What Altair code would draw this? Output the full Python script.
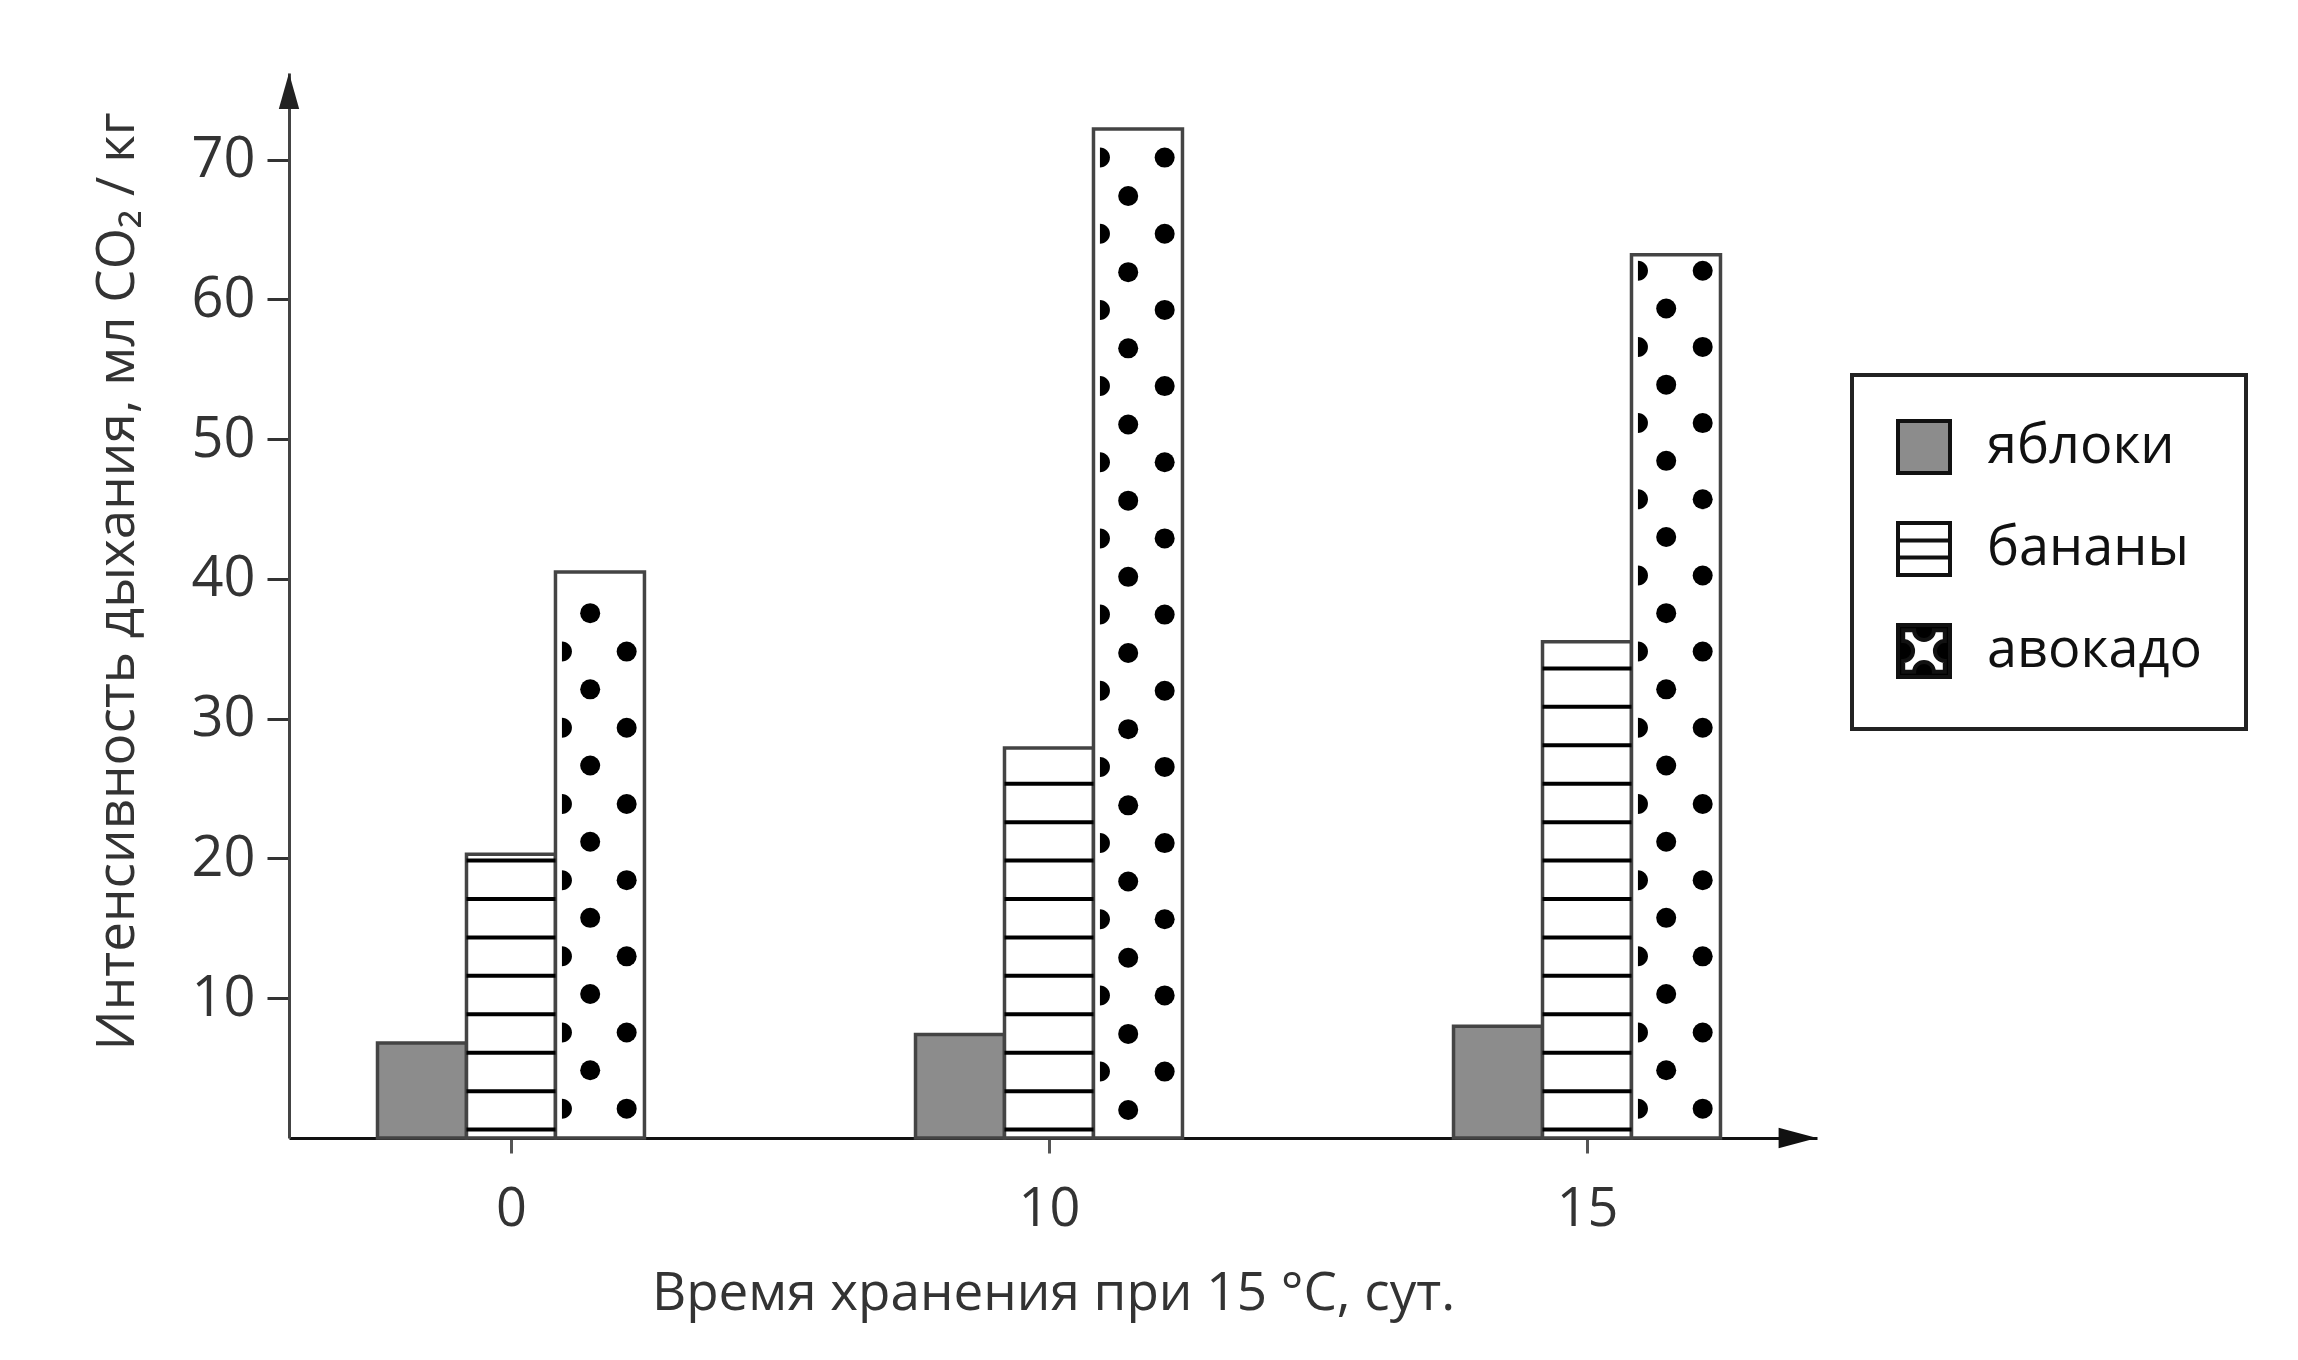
import altair as alt
import pandas as pd

# ---- data ----
days = ["0", "10", "15"]
fruits = ["яблоки", "бананы", "авокадо"]
apples = [6.8, 7.4, 8.0]
bananas = [20.3, 27.9, 35.5]
avocado = [40.5, 72.2, 63.2]
y_ticks = [10, 20, 30, 40, 50, 60, 70]
x_title = "Время хранения при 15 °C, сут."
y_title = "Интенсивность дыхания, мл CO₂ / кг"

# ---- layout constants ----
BAR_W = 0.1654
X_MIN, X_MAX = -0.4126, 2.4275
Y_MAX = 76.2
W, H = 1528, 1065
FONT = "Open Sans"

series = {"яблоки": apples, "бананы": bananas, "авокадо": avocado}
fills = {"яблоки": "#8c8c8c", "бананы": "#ffffff", "авокадо": "#ffffff"}

rows = []
for fi, fr in enumerate(fruits):
    for gi, d in enumerate(days):
        left = gi + (fi - 1.5) * BAR_W
        rows.append(dict(day=d, fruit=fr, ya=series[fr][gi], yb=0.0,
                         xa=left, xb=left + BAR_W))
bars_df = pd.DataFrame(rows)

# fill pattern of the banana bars: horizontal stripes
STRIPE_STEP, STRIPE_START = 2.75, 0.6
stripe_rows = []
for gi, v in enumerate(bananas):
    left = gi - 0.5 * BAR_W
    lvl = STRIPE_START
    while lvl < v - 0.3:
        stripe_rows.append(dict(xa=left, xb=left + BAR_W, ya=lvl))
        lvl += STRIPE_STEP
stripes_df = pd.DataFrame(stripe_rows)

# fill pattern of the avocado bars: staggered dots
DOT_STEP = 5.45
phase = [0, 1, 0]
dot_rows = []
for gi, v in enumerate(avocado):
    left = gi + 0.5 * BAR_W
    first_edge = 2.1 if phase[gi] == 0 else 4.75
    first_center = 4.85 if phase[gi] == 0 else 2.0
    r = first_edge
    while r < v - 0.9:
        dot_rows.append(dict(xa=left + 0.80 * BAR_W, ya=r, kind="full"))
        dot_rows.append(dict(xa=left + 0.012, ya=r, kind="half"))
        r += DOT_STEP
    r = first_center
    while r < v - 0.9:
        dot_rows.append(dict(xa=left + 0.39 * BAR_W, ya=r, kind="full"))
        r += DOT_STEP
dots_df = pd.DataFrame(dot_rows)

arrows_df = pd.DataFrame([dict(xa=X_MIN, ya=Y_MAX, kind="up"), dict(xa=X_MAX, ya=0.0, kind="right")])

xs = alt.Scale(domain=[X_MIN, X_MAX], nice=False, zero=False)
ys = alt.Scale(domain=[0, Y_MAX], nice=False, zero=False)

label_expr = "[" + ",".join("'%s'" % d for d in days) + "][datum.value]"

x_axis = alt.Axis(values=[0, 1, 2], labelExpr=label_expr, title=x_title, grid=False,
                  domainColor="#111", domainWidth=3, tickColor="#555", tickSize=15, tickWidth=3,
                  labelFontSize=54, labelPadding=56, labelBaseline="middle", labelColor="#333",
                  labelFont=FONT, titleFont=FONT, titleFontSize=53, titleFontWeight="normal",
                  titleColor="#333", titleX=764, titleY=155, titleBaseline="middle", titleAlign="center")
y_axis = alt.Axis(values=y_ticks, title=y_title, grid=False,
                  domainColor="#444", domainWidth=3, tickColor="#333", tickSize=22, tickWidth=3,
                  labelFontSize=56, labelPadding=12, labelColor="#333", labelFont=FONT,
                  titleFont=FONT, titleFontSize=53, titleFontWeight="normal", titleColor="#333",
                  titleX=-172, titleY=508, titleAngle=270, titleAlign="center", titleBaseline="middle")

X = alt.X("xa:Q", scale=xs, axis=x_axis)
Y = alt.Y("ya:Q", scale=ys, axis=y_axis)


def bar_layer(fruit):
    return alt.Chart(bars_df).transform_filter(alt.datum.fruit == fruit).mark_rect(
        stroke="#444444", strokeWidth=3.5, fill=fills[fruit]).encode(
        x=X, x2="xb:Q", y=Y, y2="yb:Q")


bars = [bar_layer(f) for f in fruits]

stripes = alt.Chart(stripes_df).mark_rule(color="black", strokeWidth=4).encode(
    x=X, x2="xb:Q", y=Y)

full_dots = alt.Chart(dots_df).transform_filter("datum.kind == 'full'").mark_point(
    shape="circle", filled=True, size=400, color="black", opacity=1).encode(x=X, y=Y)
half_dots = alt.Chart(dots_df).transform_filter("datum.kind == 'half'").mark_point(
    shape="M0,-1A1,1 0 0 1 0,1Z", filled=True, size=400, color="black", opacity=1).encode(x=X, y=Y)

arrow_up = alt.Chart(arrows_df).transform_filter("datum.kind == 'up'").mark_point(
    shape="M0,0L-0.85,3L0.85,3Z", filled=True, size=576, color="#222", opacity=1).encode(x=X, y=Y)
arrow_right = alt.Chart(arrows_df).transform_filter("datum.kind == 'right'").mark_point(
    shape="M0,0L-3.2,-0.85L-3.2,0.85Z", filled=True, size=576, color="#111", opacity=1).encode(x=X, y=Y)

apple_sym = "M-1,-1H1V1H-1Z"
banana_sym = "M-1,-1H1V1H-1Z M-1,-0.33H1 M-1,0.33H1"
avocado_sym = ("M-1,-1H1V1H-1Z M-0.8,-0.8V-0.38A0.38,0.38 0 0 1 -0.8,0.38V0.8H-0.38"
               "A0.38,0.38 0 0 1 0.38,0.8H0.8V0.38A0.38,0.38 0 0 1 0.8,-0.38V-0.8H0.38"
               "A0.38,0.38 0 0 1 -0.38,-0.8Z")

legend = alt.Legend(title=None, orient="none", legendX=1563, legendY=302, padding=44,
                    strokeColor="#222", symbolSize=2704, symbolStrokeWidth=4,
                    symbolOpacity=1, labelFontSize=54, labelLimit=500,
                    labelFont=FONT, labelColor="#111", labelOffset=35, rowPadding=34)

legend_layer = alt.Chart(bars_df).transform_filter("false").mark_point(
    filled=True, strokeWidth=4, opacity=1).encode(
    x=X, y=Y,
    fill=alt.Fill("fruit:N", scale=alt.Scale(domain=fruits, range=["#8c8c8c", "#ffffff", "#000000"]),
                  legend=legend),
    stroke=alt.Stroke("fruit:N", scale=alt.Scale(domain=fruits, range=["#111111", "#111111", "#111111"]),
                      legend=legend),
    shape=alt.Shape("fruit:N", scale=alt.Scale(domain=fruits, range=[apple_sym, banana_sym, avocado_sym]),
                    legend=legend),
)

chart = alt.layer(*bars, stripes, full_dots, half_dots, arrow_up, arrow_right, legend_layer).properties(
    width=W, height=H,
    autosize=alt.AutoSizeParams(type="none"),
    padding={"left": 281, "top": 65, "right": 470, "bottom": 200},
    background="white",
).configure_view(stroke=None).configure_legend(strokeWidth=4)

chart.save("out.html", embed_options={"renderer": "svg", "actions": False})
